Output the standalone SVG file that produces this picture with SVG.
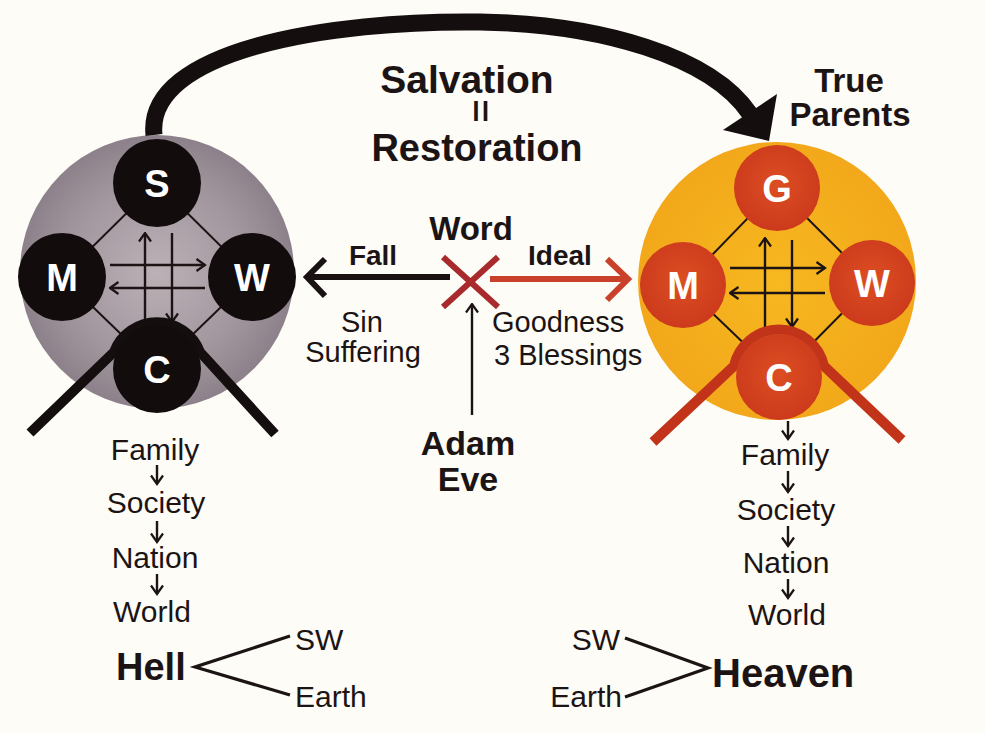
<svg xmlns="http://www.w3.org/2000/svg" width="985" height="733" viewBox="0 0 985 733">
<defs>
<style>
.t{font-family:"Liberation Sans",Arial,sans-serif;fill:#1c1414}
.b{font-weight:bold}
.r{font-weight:normal}
.let{font-family:"Liberation Sans",Arial,sans-serif;font-weight:bold;fill:#ffffff;font-size:38px;text-anchor:middle}
.thin{stroke:#1c1414;stroke-width:2.4;fill:none}
.edge{stroke:#1c1414;stroke-width:2;fill:none}
</style>
<radialGradient id="gGray" cx="0.5" cy="0.5" r="0.5">
<stop offset="0" stop-color="#bbb1b6"/>
<stop offset="0.65" stop-color="#a3979f"/>
<stop offset="1" stop-color="#8c808a"/>
</radialGradient>
<radialGradient id="gGold" cx="0.5" cy="0.5" r="0.5">
<stop offset="0" stop-color="#f7b820"/>
<stop offset="1" stop-color="#f2a81a"/>
</radialGradient>
<radialGradient id="gRed" cx="0.5" cy="0.45" r="0.55">
<stop offset="0" stop-color="#dc4e22"/>
<stop offset="1" stop-color="#cc3a1c"/>
</radialGradient>
<marker id="ah" viewBox="0 0 14 14" refX="12.5" refY="7" markerWidth="14" markerHeight="14" markerUnits="userSpaceOnUse" orient="auto">
<path d="M4,1 L12.5,7 L4,13" fill="none" stroke="#1c1414" stroke-width="2.2"/>
</marker>
</defs>
<rect width="985" height="733" fill="#fdfcf6"/>

<g id="left-cluster">
<circle cx="157" cy="272" r="137" fill="url(#gGray)"/>
<g class="edge">
<line x1="157" y1="183" x2="62" y2="277"/>
<line x1="157" y1="183" x2="252" y2="277"/>
<line x1="62" y1="277" x2="157" y2="369"/>
<line x1="252" y1="277" x2="157" y2="369"/>
</g>
<g class="thin">
<line x1="145" y1="322" x2="145" y2="233" marker-end="url(#ah)"/>
<line x1="172" y1="233" x2="172" y2="322" marker-end="url(#ah)"/>
<line x1="110" y1="265" x2="205" y2="265" marker-end="url(#ah)"/>
<line x1="205" y1="288" x2="110" y2="288" marker-end="url(#ah)"/>
</g>
<path d="M30 433 L114 352 A46 46 0 0 1 200 352 L275 434" fill="none" stroke="#140e0e" stroke-width="10" stroke-linejoin="round"/>
<g id="S"><circle cx="157" cy="183" r="44" fill="#120c0c"/><text class="let" x="157" y="197">S</text></g>
<g id="M-left"><circle cx="62" cy="277" r="44" fill="#120c0c"/><text class="let" x="62" y="291">M</text></g>
<g id="W-left"><circle cx="252" cy="277" r="44" fill="#120c0c"/><text class="let" x="252" y="291">W</text></g>
<g id="C-left"><circle cx="157" cy="369" r="44" fill="#120c0c"/><text class="let" x="157" y="383">C</text></g>
</g>

<g id="right-cluster">
<circle cx="777" cy="281" r="139" fill="url(#gGold)"/>
<g class="edge">
<line x1="777" y1="188" x2="683" y2="285"/>
<line x1="777" y1="188" x2="872" y2="283"/>
<line x1="683" y1="285" x2="779" y2="377"/>
<line x1="872" y1="283" x2="779" y2="377"/>
</g>
<g class="thin">
<line x1="765" y1="327" x2="765" y2="238" marker-end="url(#ah)"/>
<line x1="792" y1="240" x2="792" y2="327" marker-end="url(#ah)"/>
<line x1="730" y1="268" x2="825" y2="268" marker-end="url(#ah)"/>
<line x1="825" y1="293" x2="730" y2="293" marker-end="url(#ah)"/>
</g>
<path d="M653 442 L734 366 A46 46 0 0 1 824 366 L902 440" fill="none" stroke="#c2341a" stroke-width="10" stroke-linejoin="round"/>
<g id="G"><circle cx="777" cy="188" r="43" fill="url(#gRed)"/><text class="let" x="777" y="202">G</text></g>
<g id="M-right"><circle cx="683" cy="285" r="43" fill="url(#gRed)"/><text class="let" x="683" y="299">M</text></g>
<g id="W-right"><circle cx="872" cy="283" r="43" fill="url(#gRed)"/><text class="let" x="872" y="297">W</text></g>
<g id="C-right"><circle cx="779" cy="377" r="43" fill="url(#gRed)"/><text class="let" x="779" y="391">C</text></g>
</g>

<g id="connectors">
<path d="M154 135 C145 50 330 20 480 22 C600 24 711 56 750 114" fill="none" stroke="#140e0e" stroke-width="17"/>
<polygon points="723,130 777,94 769,141" fill="#140e0e"/>
<line x1="450" y1="277" x2="308" y2="277" stroke="#1a1212" stroke-width="6"/>
<polyline points="325,259 307,277 325,296" fill="none" stroke="#1a1212" stroke-width="6"/>
<line x1="490" y1="279" x2="628" y2="279" stroke="#c9412a" stroke-width="6"/>
<polyline points="607,259 628,279 607,300" fill="none" stroke="#c9412a" stroke-width="6"/>
<line x1="443" y1="257" x2="498" y2="307" stroke="#a82a2c" stroke-width="6"/>
<line x1="498" y1="257" x2="443" y2="307" stroke="#a82a2c" stroke-width="6"/>
<line x1="472" y1="415" x2="472" y2="304" class="thin" stroke-width="3" marker-end="url(#ah)"/>
<g class="thin" stroke-width="2">
<line x1="157" y1="465" x2="157" y2="484" marker-end="url(#ah)"/>
<line x1="157" y1="521" x2="157" y2="542" marker-end="url(#ah)"/>
<line x1="157" y1="574" x2="157" y2="594" marker-end="url(#ah)"/>
<line x1="788" y1="421" x2="788" y2="439" marker-end="url(#ah)"/>
<line x1="788" y1="471" x2="788" y2="492" marker-end="url(#ah)"/>
<line x1="788" y1="526" x2="788" y2="546" marker-end="url(#ah)"/>
<line x1="788" y1="579" x2="788" y2="598" marker-end="url(#ah)"/>
</g>
<polyline points="290,636 195,667 290,695" fill="none" stroke="#1c1414" stroke-width="3.2"/>
<polyline points="625,638 708,668 625,697" fill="none" stroke="#1c1414" stroke-width="3.2"/>
</g>

<g id="title">
<text class="t b" x="467" y="93" font-size="39" text-anchor="middle">Salvation</text>
<text class="t b" x="482" y="121" font-size="25" text-anchor="middle" letter-spacing="2.5" transform="translate(482 121) scale(1 1.15) translate(-482 -121)">II</text>
<text class="t b" x="477" y="161" font-size="38" text-anchor="middle">Restoration</text>
</g>
<g id="true-parents">
<text class="t b" x="849" y="92" font-size="33" text-anchor="middle">True</text>
<text class="t b" x="850" y="126" font-size="33" text-anchor="middle">Parents</text>
</g>
<g id="word"><text class="t b" x="471" y="240" font-size="33" text-anchor="middle">Word</text></g>
<g id="fall">
<text class="t b" x="373" y="265" font-size="28" text-anchor="middle">Fall</text>
<text class="t r" x="362" y="332" font-size="29" text-anchor="middle">Sin</text>
<text class="t r" x="363" y="362" font-size="29" text-anchor="middle">Suffering</text>
</g>
<g id="ideal">
<text class="t b" x="560" y="265" font-size="28" text-anchor="middle">Ideal</text>
<text class="t r" x="492" y="332" font-size="29">Goodness</text>
<text class="t r" x="494" y="365" font-size="29">3 Blessings</text>
</g>
<g id="adam-eve">
<text class="t b" x="468" y="455" font-size="34" text-anchor="middle">Adam</text>
<text class="t b" x="468" y="491" font-size="34" text-anchor="middle">Eve</text>
</g>
<g id="left-flow">
<text class="t r" x="155" y="460" font-size="30" text-anchor="middle">Family</text>
<text class="t r" x="156" y="513" font-size="30" text-anchor="middle">Society</text>
<text class="t r" x="155" y="568" font-size="30" text-anchor="middle">Nation</text>
<text class="t r" x="152" y="622" font-size="30" text-anchor="middle">World</text>
</g>
<g id="hell">
<text class="t b" x="116" y="680" font-size="38">Hell</text>
<text class="t r" x="295" y="650" font-size="30">SW</text>
<text class="t r" x="295" y="707" font-size="30">Earth</text>
</g>
<g id="right-flow">
<text class="t r" x="785" y="465" font-size="30" text-anchor="middle">Family</text>
<text class="t r" x="786" y="520" font-size="30" text-anchor="middle">Society</text>
<text class="t r" x="786" y="573" font-size="30" text-anchor="middle">Nation</text>
<text class="t r" x="787" y="625" font-size="30" text-anchor="middle">World</text>
</g>
<g id="heaven">
<text class="t b" x="712" y="687" font-size="40">Heaven</text>
<text class="t r" x="620" y="650" font-size="30" text-anchor="end">SW</text>
<text class="t r" x="622" y="707" font-size="30" text-anchor="end">Earth</text>
</g>
</svg>
